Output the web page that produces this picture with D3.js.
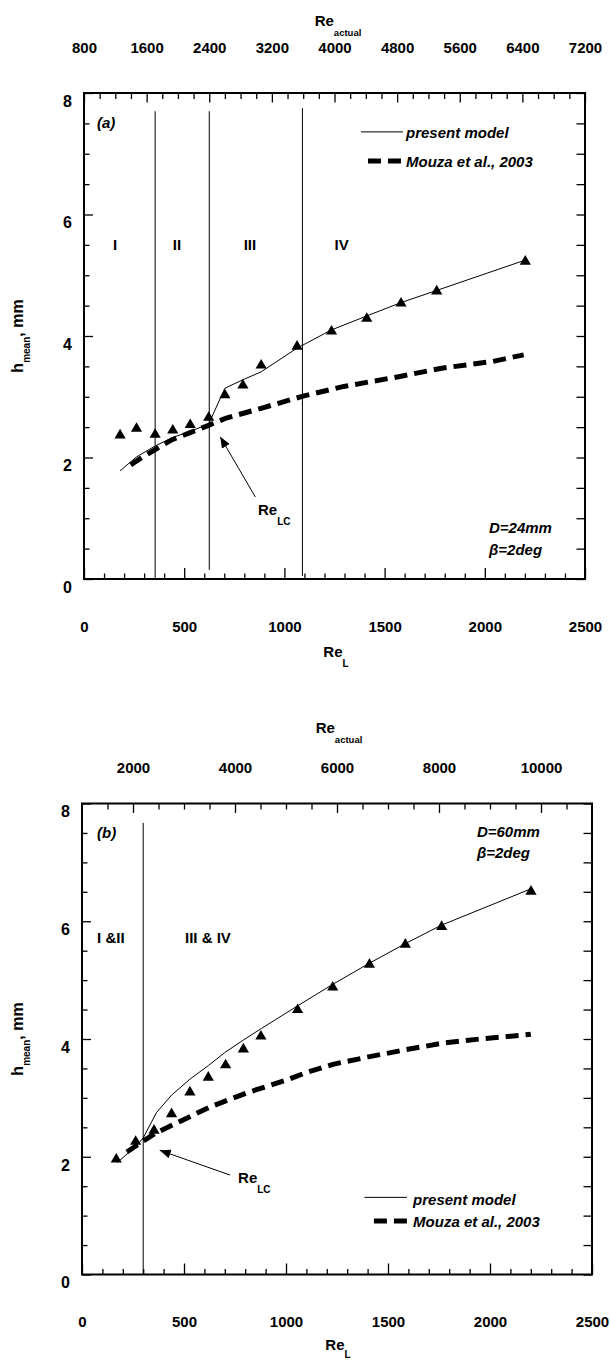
<!DOCTYPE html>
<html><head><meta charset="utf-8">
<script src="https://cdn.jsdelivr.net/npm/d3@7"></script>
<style>
body{margin:0;background:#fff}
svg{display:block}
text{font-family:"Liberation Sans",Arial,sans-serif;font-weight:bold;fill:#000}
</style>
</head><body>
<svg id="c" width="610" height="1360"></svg>
<script>
// ---------- data ----------
const reLTicks = [0, 500, 1000, 1500, 2000, 2500];
const reLMinor = [100,200,300,400,600,700,800,900,1100,1200,1300,1400,1600,1700,1800,1900,2100,2200,2300,2400];
const hTicks = [0, 2, 4, 6, 8];
const hMinor = [0.5,1,1.5,2.5,3,3.5,4.5,5,5.5,6.5,7,7.5];

const topTicksA = [800, 1600, 2400, 3200, 4000, 4800, 5600, 6400, 7200];
const topMinorA = [1000,1200,1400,1800,2000,2200,2600,2800,3000,3400,3600,3800,4200,4400,4600,5000,5200,5400,5800,6000,6200,6600,6800,7000];
const topTicksB = [2000, 4000, 6000, 8000, 10000];
const topMinorB = [1500,2500,3000,3500,4500,5000,5500,6500,7000,7500,8500,9000,9500,10500];

// chart (a) D=24mm
const expA_Re = [180, 262, 355, 443, 530, 622, 703, 793, 884, 1063, 1235, 1411, 1582, 1760, 2202];
const expA_h  = [2.39, 2.50, 2.40, 2.47, 2.56, 2.68, 3.05, 3.21, 3.54, 3.85, 4.10, 4.31, 4.56, 4.76, 5.25];
const modelA_Re = [180, 262, 355, 443, 530, 622, 703, 793, 884, 1063, 1235, 1411, 1582, 1760, 2202];
const modelA_h  = [1.78, 2.01, 2.19, 2.33, 2.43, 2.55, 3.14, 3.28, 3.41, 3.80, 4.10, 4.33, 4.55, 4.75, 5.25];
const mouzaA_Re = [233, 280, 355, 437, 530, 622, 710, 884, 1093, 1297, 1570, 1785, 2038, 2194];
const mouzaA_h  = [1.88, 1.98, 2.13, 2.29, 2.41, 2.53, 2.65, 2.81, 3.01, 3.17, 3.33, 3.47, 3.58, 3.69];
const regionLinesA = [355, 625, 1090];
const regionLabelsA = ["I", "II", "III", "IV"];

// chart (b) D=60mm
const expB_Re = [168, 263, 353, 439, 529, 619, 704, 791, 877, 1057, 1229, 1409, 1585, 1763, 2201];
const expB_h  = [1.98, 2.28, 2.47, 2.75, 3.12, 3.37, 3.58, 3.85, 4.07, 4.52, 4.90, 5.29, 5.63, 5.93, 6.53];
const modelB_Re = [172, 265, 300, 365, 440, 530, 620, 700, 790, 880, 1060, 1230, 1410, 1585, 1760, 2200];
const modelB_h  = [1.90, 2.18, 2.32, 2.75, 3.05, 3.32, 3.55, 3.77, 3.98, 4.18, 4.57, 4.93, 5.29, 5.62, 5.93, 6.55];
const mouzaB_Re = [220, 280, 360, 480, 630, 820, 1000, 1100, 1230, 1410, 1590, 1770, 1950, 2200];
const mouzaB_h  = [2.08, 2.22, 2.40, 2.60, 2.85, 3.10, 3.30, 3.43, 3.57, 3.70, 3.82, 3.93, 4.00, 4.08];
const regionLinesB = [300];
const regionLabelsB = ["I &II", "III & IV"];

// ---------- drawing ----------
const svg = d3.select("#c");
const defs = svg.append("defs");
defs.append("marker").attr("id","arr").attr("markerUnits","userSpaceOnUse")
  .attr("markerWidth",12).attr("markerHeight",10).attr("refX",11).attr("refY",4.5)
  .attr("orient","auto")
  .append("path").attr("d","M0,0 L11,4.5 L0,9 Z").attr("fill","#000");

function zip(a,b){ return a.map((v,i)=>[v,b[i]]); }

function chart(c){
  const g = svg.append("g");
  const x = d3.scaleLinear().domain([0,2500]).range([c.x0,c.x1]);
  const y = d3.scaleLinear().domain([0,8]).range([c.y0,c.y1]);
  const xt = d3.scaleLinear().domain(c.topDomain).range([c.x0,c.x1]);

  function ax(gen, tr){
    const a = g.append("g").attr("transform",tr).call(gen);
    a.select(".domain").remove();
    a.selectAll("line").attr("stroke","#000").attr("stroke-width",1.3);
    a.selectAll("text").attr("font-size",15).attr("font-family",null).attr("fill","#000");
    return a;
  }
  // bottom
  ax(d3.axisBottom(x).tickValues(reLMinor).tickSizeInner(-5.5).tickSizeOuter(0).tickFormat(""), `translate(0,${c.y0})`);
  ax(d3.axisBottom(x).tickValues(reLTicks).tickSizeInner(-11).tickSizeOuter(0).tickPadding(42).tickFormat(d3.format("d")), `translate(0,${c.y0})`);
  // top
  ax(d3.axisTop(xt).tickValues(c.topMinor).tickSizeInner(-6).tickSizeOuter(0).tickFormat(""), `translate(0,${c.y1})`);
  ax(d3.axisTop(xt).tickValues(c.topTicks).tickSizeInner(-9.5).tickSizeOuter(0).tickPadding(c.topPad).tickFormat(d3.format("d")), `translate(0,${c.y1})`);
  // left
  ax(d3.axisLeft(y).tickValues(hMinor).tickSizeInner(-5.5).tickSizeOuter(0).tickFormat(""), `translate(${c.x0},0)`);
  const la = ax(d3.axisLeft(y).tickValues(hTicks).tickSizeInner(-9).tickSizeOuter(0).tickPadding(c.leftPad).tickFormat(d3.format("d")), `translate(${c.x0},0)`);
  la.selectAll("text").attr("dy","0.83em").attr("font-size",16);
  // right
  ax(d3.axisRight(y).tickValues(hMinor.concat(hTicks)).tickSizeInner(-8.5).tickSizeOuter(0).tickFormat(""), `translate(${c.x1},0)`);

  // frame
  g.append("rect").attr("x",c.x0).attr("y",c.y1).attr("width",c.x1-c.x0).attr("height",c.y0-c.y1)
    .attr("fill","none").attr("stroke","#000").attr("stroke-width",2);

  // axis titles
  const tt = g.append("text").attr("x",c.topTitleX).attr("y",c.y1-c.topTitleOff).attr("text-anchor","middle").attr("font-size",15);
  tt.append("tspan").text("Re");
  tt.append("tspan").attr("font-size",9.5).attr("dy",10.5).text("actual");
  const bt = g.append("text").attr("x",c.botTitleX).attr("y",c.y0+c.botTitleOff).attr("text-anchor","middle").attr("font-size",15);
  bt.append("tspan").text("Re");
  bt.append("tspan").attr("font-size",10).attr("dy",c.botSubDy).text("L");
  const yt = g.append("text").attr("transform",`translate(23,${(c.y0+c.y1)/2}) rotate(-90)`).attr("text-anchor","middle").attr("font-size",16);
  yt.append("tspan").text("h");
  yt.append("tspan").attr("font-size",10).attr("dy",7).text("mean");
  yt.append("tspan").attr("dy",-7).text(", mm");

  // region lines
  c.regionLines.forEach((r,i)=>{
    g.append("line").attr("x1",x(r)).attr("x2",x(r)).attr("y1",y(c.regionTop[i])).attr("y2",y(c.regionBot[i]))
      .attr("stroke","#000").attr("stroke-width",1);
  });
  c.regionLabels.forEach((t,i)=>{
    g.append("text").attr("x",x(c.regionLabelX[i])).attr("y",y(c.regionLabelY)).attr("text-anchor",c.regionAnchor)
      .attr("font-size",15).text(t);
  });

  // series
  const line = d3.line().x(d=>x(d[0])).y(d=>y(d[1]));
  g.append("path").attr("d",line(zip(c.mouzaRe,c.mouzaH))).attr("fill","none").attr("stroke","#000")
    .attr("stroke-width",5).attr("stroke-dasharray","13,7");
  g.append("path").attr("d",line(zip(c.modelRe,c.modelH))).attr("fill","none").attr("stroke","#000").attr("stroke-width",1);
  g.selectAll(null).data(zip(c.expRe,c.expH)).enter().append("path")
    .attr("d",d=>{const px=x(d[0]),py=y(d[1]);return `M${px},${py-5} L${px+5.6},${py+4.6} L${px-5.6},${py+4.6} Z`;})
    .attr("fill","#000");

  // panel tag
  g.append("text").attr("x",x(c.tag[0])).attr("y",y(c.tag[1])).attr("font-size",15).attr("font-style","italic").text(c.tag[2]);
  // conditions
  c.cond.forEach(d=>g.append("text").attr("x",x(d[0])).attr("y",y(d[1])).attr("font-size",15).attr("font-style","italic").text(d[2]));

  // legend
  const L = c.legend;
  g.append("line").attr("x1",x(L.solid[0])).attr("x2",x(L.solid[1])).attr("y1",y(L.solid[2])).attr("y2",y(L.solid[2])).attr("stroke","#000").attr("stroke-width",1);
  g.append("line").attr("x1",x(L.dash[0])).attr("x2",x(L.dash[1])).attr("y1",y(L.dash[2])).attr("y2",y(L.dash[2])).attr("stroke","#000").attr("stroke-width",5).attr("stroke-dasharray","13,7");
  g.append("text").attr("x",x(L.textX)).attr("y",y(L.t1)).attr("font-size",15).attr("font-style","italic").text("present model");
  g.append("text").attr("x",x(L.textX)).attr("y",y(L.t2)).attr("font-size",15).attr("font-style","italic").text("Mouza et al., 2003");

  // Re_LC annotation
  const A = c.arrow;
  g.append("line").attr("x1",x(A.tail[0])).attr("y1",y(A.tail[1])).attr("x2",x(A.tip[0])).attr("y2",y(A.tip[1]))
    .attr("stroke","#000").attr("stroke-width",1).attr("marker-end","url(#arr)");
  const at = g.append("text").attr("x",x(A.label[0])).attr("y",y(A.label[1])).attr("font-size",15);
  at.append("tspan").text("Re");
  at.append("tspan").attr("font-size",10).attr("dy",10).text("LC");
}

chart({
  x0:84, x1:585, y0:579, y1:93,
  topDomain:[800,7200], topTicks:topTicksA, topMinor:topMinorA, topPad:40, leftPad:12,
  topTitleX:338, topTitleOff:67.5, botTitleX:336, botTitleOff:78, botSubDy:10,
  regionLines:regionLinesA, regionTop:[7.7,7.7,7.75], regionBot:[0,0.15,0.05],
  regionLabels:regionLabelsA, regionLabelX:[155,464,828,1286], regionLabelY:5.42, regionAnchor:"middle",
  expRe:expA_Re, expH:expA_h, modelRe:modelA_Re, modelH:modelA_h, mouzaRe:mouzaA_Re, mouzaH:mouzaA_h,
  tag:[65,7.42,"(a)"],
  cond:[[2021,0.757,"D=24mm"],[2021,0.395,"β=2deg"]],
  legend:{solid:[1382,1592,7.36], dash:[1417,1592,6.88], textX:1607, t1:7.26, t2:6.78},
  arrow:{tail:[855,1.35], tip:[680,2.34], label:[868,1.05]}
});

chart({
  x0:82, x1:592, y0:1274.5, y1:803.5,
  topDomain:[1000,11000], topTicks:topTicksB, topMinor:topMinorB, topPad:31, leftPad:12,
  topTitleX:339, topTitleOff:71, botTitleX:338, botTitleOff:75, botSubDy:8,
  regionLines:regionLinesB, regionTop:[7.67], regionBot:[0],
  regionLabels:regionLabelsB, regionLabelX:[74,505], regionLabelY:5.63, regionAnchor:"start",
  expRe:expB_Re, expH:expB_h, modelRe:modelB_Re, modelH:modelB_h, mouzaRe:mouzaB_Re, mouzaH:mouzaB_h,
  tag:[74,7.41,"(b)"],
  cond:[[1936,7.43,"D=60mm"],[1936,7.07,"β=2deg"]],
  legend:{solid:[1385,1593,1.31], dash:[1431,1593,0.91], textX:1623, t1:1.18, t2:0.81},
  arrow:{tail:[725,1.69], tip:[381,2.11], label:[765,1.55]}
});
</script>
</body></html>
